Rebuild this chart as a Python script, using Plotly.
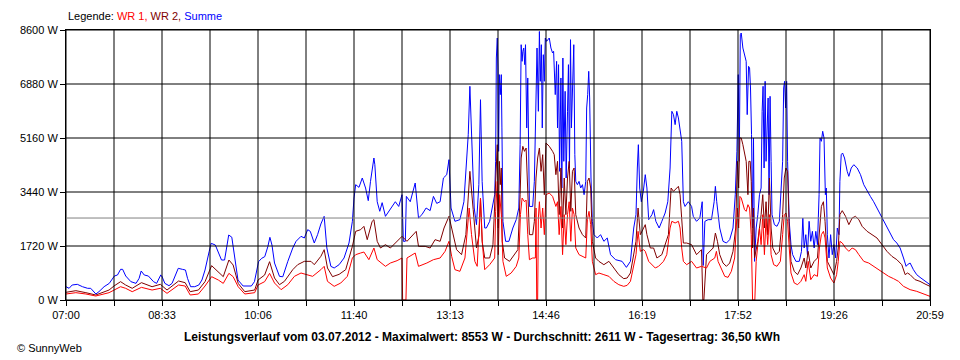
import pandas as pd
import plotly.graph_objects as go

# ---------------- data (minutes after 07:00, watts) ----------------
day_start = "2012-07-03 07:00"
day_minutes = 839  # 07:00 .. 20:59

x_tick_labels = ["07:00", "08:33", "10:06", "11:40", "13:13",
                 "14:46", "16:19", "17:52", "19:26", "20:59"]
y_tick_values = [0, 1720, 3440, 5160, 6880, 8600]
average_w = 2611

t_sum = [
    0, 3, 6, 11, 16, 21, 24, 29, 32, 37,
    42, 47, 50, 53, 55, 58, 63, 68, 71, 73,
    76, 80, 85, 88, 92, 93, 96, 100, 103, 106,
    109, 113, 116, 118, 121, 125, 129, 132, 135, 139,
    141, 145, 148, 151, 154, 156, 158, 161, 164, 167,
    172, 180, 183, 187, 190, 193, 196, 198, 200,
    202.5, 207.3, 210.5, 215.4, 220.2, 223.4, 228.2, 231.4, 234.7, 237.2,
    241.1, 244.3, 247.5, 250.7, 253.3, 257.2, 260.4, 265.2, 270.0, 274.8,
    278.1, 279.7, 281.3, 284.5, 287.7, 290.9, 293.5, 295.7, 299.0, 299.9,
    302.2, 304.7, 307.0, 310.2, 315.0, 319.8, 323.1, 326.3, 327.6, 329.5,
    330.5, 334.3, 339.1, 342.3, 345.6, 349.7, 353.6, 356.8, 360.0, 363.3,
    366.5, 369.7, 371.9, 373.9, 377.7, 382.5, 386.4, 389.0, 390.6, 392.2,
    393.1, 394.8, 396.4, 398.6, 400.9, 402.5, 404.1, 406.6,
    408.2, 411.4, 414.0, 416.3, 417.2, 417.9, 418.8, 419.5, 420.1, 420.8,
    421.7, 422.7, 423.3, 424.3, 426.9, 430.1, 433.9, 437.2, 439.7, 441.0,
    442.0, 442.9, 443.6, 444.5, 445.5, 446.2, 447.4, 448.4, 450.0, 453.2,
    454.8, 456.4, 457.4, 458.7, 459.7, 460.6, 461.6, 462.5, 463.5, 464.5,
    465.4, 466.7, 467.7, 469.3, 470.9, 472.5, 473.5, 475.1, 476.4, 477.3,
    478.3, 479.3, 480.6, 481.5, 482.5, 483.4, 484.7, 485.7, 487.0, 487.9,
    488.9, 489.9, 490.8, 491.8, 493.1, 494.1, 495.0, 496.6, 498.2, 499.8,
    501.5, 503.1, 504.7, 505.6, 506.6, 507.6, 508.5, 509.8, 511.1, 512.7,
    515.9, 519.1, 522.3, 525.6, 528.8, 533.6, 540.0, 544.2, 548.1, 551.3,
    553.5, 554.8, 555.8, 557.1, 558.7, 560.6, 562.5, 564.1, 565.8, 569.0,
    570.6, 572.8, 576.0, 578.6, 581.8, 584.4, 586.6, 588.3, 589.9, 591.5,
    593.1, 594.7, 596.3, 597.9, 599.5, 601.1, 604.3,
    607.5, 609.1, 612.3, 615.5, 617.8, 618.8, 620.4, 623.6, 626.8, 629.4,
    630.6, 631.9, 634.8, 638.0, 641.3, 644.5, 647.7, 649.9, 651.5, 652.8,
    653.8, 654.8, 655.7, 657.3, 658.9, 660.5, 661.5, 662.8, 663.8, 664.7,
    665.7, 666.7, 667.6, 668.6, 670.2, 671.8, 673.4, 675.0, 676.0, 676.9,
    677.9, 678.9, 679.8, 680.8, 681.8, 682.7, 683.7, 684.7, 685.6, 687.9,
    690.4, 692.7, 694.3, 695.9, 696.9, 697.8, 698.8, 699.8, 700.7, 702.3,
    704.0, 705.6, 708.8, 712.0, 714.2, 715.5, 716.8, 718.4, 720.0, 721.6,
    723.2, 724.8, 726.5, 728.1, 729.7, 731.3, 732.2, 733.5, 734.8, 736.1,
    737.4, 738.3, 739.3, 740.9, 742.5, 744.1, 745.7, 747.4, 749.0, 750.6,
    751.5, 752.8, 754.1, 756.0, 758.6, 760.2, 762.5, 765.0, 768.3, 771.5,
    774.7, 777.9, 781.1, 784.3, 787.5, 790.8, 794.0, 797.2, 800.4, 803.6,
    806.8, 810.0, 813.3, 815.8, 817.1, 819.7, 822.9, 826.1, 829.3, 832.6,
    835.8, 839.0,
]
p_sum = [
    424, 372, 478, 499, 424, 372, 372, 191, 265, 424,
    530, 764, 796, 977, 977, 764, 584, 530, 690, 924,
    796, 764, 584, 530, 796, 764, 530, 456, 530, 743,
    1009, 977, 955, 690, 424, 424, 478, 637, 955, 1539,
    1805, 1752, 1487, 1274, 1274, 1699, 2070, 2000, 1274, 637,
    446, 446, 584, 1221, 1327, 1380, 1699, 1997, 1752,
    1178, 754, 740, 1231, 1656, 1869, 2028, 1975, 2240, 2187,
    1815, 2081, 2421, 2665, 1656, 1072, 1019, 1125, 1338, 1815,
    2506, 3249, 3673, 3588, 3886, 3567, 3164, 3779, 4523, 4310,
    3130, 2825, 3100, 2665, 2878, 3130, 2980, 3354, 1869, 1869,
    3300, 3130, 3726, 2612, 2718, 2930, 2846, 3300, 3077, 3130,
    3886, 3990, 4470, 2930, 2506, 2560, 3130, 4417, 5265, 6806,
    6010, 4895, 2930, 2400, 3673, 6380, 3779, 2293,
    2293, 2506, 2980, 3354, 4417, 7708, 8345, 7390, 4735, 7178,
    6541, 7178, 5480, 2506, 1869, 1869, 2293, 2560, 2930, 4947,
    8132, 7602, 7920, 8026, 7496, 8132, 5480, 7072, 2980, 2980,
    3779, 6966, 8026, 6010, 8553, 6966, 8132, 5480, 7814, 6966,
    8345, 8239, 8292, 8345, 8026, 7867, 7920, 6541, 7602, 5480,
    7496, 4098, 7072, 3567, 7708, 4417, 6647, 3886, 6010, 7496,
    4204, 8292, 5480, 6541, 8132, 4629, 3779, 3673, 3779, 3567,
    3673, 3354, 3779, 6116, 6541, 7284, 6435, 3886, 2506, 2081,
    1975, 2081, 1869, 1975, 1444, 1285, 1231, 1040, 1231, 2293,
    2718, 4204, 4947, 3567, 3130, 3460, 3992, 3567, 2560, 2718,
    2878, 2506, 2293, 2506, 2771, 3130, 4204, 6010, 5904, 5586,
    6010, 5798, 5480, 5055, 3130, 2980, 3130,
    2980, 2665, 2506, 2612, 3130, 1100, 2506, 2560, 2560, 3130,
    3620, 3130, 2293, 1869, 1815, 1922, 2293, 3354, 4735, 7178,
    4417, 8451, 8504, 8026, 7814, 7602, 5904, 7443, 7390, 6753,
    5268, 2293, 5161, 1231, 2293, 2718, 3354, 3567, 6010, 6806,
    4204, 6966, 4417, 5480, 6435, 3354, 6488, 4417, 2718, 2400,
    2347, 2506, 3354, 4417, 6753, 6966, 6116, 6966, 4417, 2506,
    1762, 1444, 1231, 1231, 1550, 2612, 1656, 2081, 1444, 2506,
    1869, 2187, 1656, 2187, 1762, 3354, 5161, 5055, 5374, 5161,
    3354, 3567, 2081, 1338, 2081, 1444, 1762, 1338, 2293, 2081,
    3779, 4629, 4682, 4523, 4098, 3939, 4204, 4310, 4204, 3992,
    3673, 3460, 3300, 3130, 2930, 2718, 2506, 2293, 2081, 1922,
    1815, 1656, 1338, 1072, 1125, 1178, 966, 807, 722, 648,
    573, 488,
]

t_wr2 = [
    0, 9.6, 19.3, 28.9, 41.8, 46.6, 53.0, 57.9, 64.3, 73.3,
    83.6, 91.6, 98.1, 109.3, 115.7, 120.6, 128.6, 135.0, 141.4, 147.9,
    152.7, 158.2, 162.3, 167.2, 173.6, 183.2, 186.5, 192.9, 197.7,
    202.5, 207.3, 212.1, 220.2, 225.0, 231.4, 237.9, 241.1, 247.5, 250.7,
    253.9, 258.8, 265.2, 271.6, 278.1, 281.3, 286.1, 289.3, 292.5, 297.3,
    299.0, 302.2, 305.4, 310.2, 315.0, 321.5, 326.3, 331.1, 335.9, 340.1,
    342.3, 348.8, 353.6, 358.4, 363.3, 367.1, 371.9, 374.5, 379.3, 384.1,
    388.3, 392.2, 393.8, 395.4, 398.6, 401.2, 402.5, 404.1, 406.6,
    411.4, 414.6, 417.2, 418.8, 419.8, 420.8, 421.7, 422.7, 423.6, 425.9,
    430.7, 435.5, 438.8, 441.0, 442.0, 443.6, 445.2, 446.8, 448.4, 450.0,
    453.2, 454.8, 456.4, 458.0, 459.7, 461.3, 462.9, 464.5, 466.1, 467.7,
    469.3, 472.5, 474.1, 475.7, 477.3, 478.9, 480.6, 482.2, 483.8, 485.4,
    487.0, 488.6, 490.2, 491.8, 493.4, 495.0, 498.2, 501.5, 504.7, 506.3,
    507.9, 509.5, 511.1, 514.3, 517.5, 522.3, 527.2, 532.0, 536.8, 541.6,
    544.9, 548.1, 551.3, 553.5, 555.5, 557.7, 560.9, 562.5, 564.1, 567.4,
    570.6, 573.8, 578.6, 582.5, 585.0, 587.6, 589.9, 593.1, 594.7, 596.3,
    597.9, 599.5, 602.7, 605.9,
    607.5, 612.3, 617.1, 618.4, 619.4, 622.0, 625.2, 628.4, 630.6, 632.6,
    634.8, 638.0, 641.3, 644.5, 647.7, 650.3, 651.9, 653.2, 654.4, 655.7,
    657.3, 658.9, 660.5, 662.2, 663.1, 664.4, 665.4, 666.7, 667.6, 668.6,
    671.8, 675.0, 676.6, 678.2, 679.8, 681.4, 683.1, 684.7, 686.3, 689.5,
    692.7, 695.9, 697.5, 699.1, 700.7, 702.3, 704.0, 707.2, 710.4, 713.6,
    716.8, 718.4, 720.7, 723.2, 726.5, 729.7, 731.6, 733.5, 735.5, 737.1,
    739.3, 742.5, 745.7, 748.3, 749.9, 751.5, 753.8, 757.0, 760.2, 763.4,
    766.6, 769.9, 773.1, 777.9, 782.7, 787.5, 792.4, 797.2, 802.0, 806.8,
    811.6, 814.9, 817.1, 819.7, 824.5, 829.3, 834.2, 839.0,
]
p_wr2 = [
    245, 297, 233, 159, 318, 446, 584, 478, 372, 552,
    424, 499, 318, 605, 552, 265, 318, 584, 1094, 902,
    743, 1274, 1115, 530, 265, 318, 637, 796, 1221,
    700, 488, 594, 966, 1125, 1231, 1231, 1125, 1391, 1603,
    1019, 743, 817, 966, 1709, 2187, 2240, 2346, 1922, 2506,
    2560, 1869, 1656, 1762, 1656, 1869, 2028, 1869, 2028, 2187,
    1709, 1709, 1656, 1922, 1869, 2293, 2665, 2293, 1603, 1444,
    2081, 4098, 3354, 2878, 1656, 2081, 3249, 1869, 1338,
    1338, 1762, 3886, 4947, 2293, 4417, 3673, 4204, 1869, 1338,
    1231, 1444, 1603, 3354, 4523, 4895, 4735, 4841, 3354, 2081,
    2081, 2506, 3886, 4523, 4841, 4098, 4629, 3354, 5002, 4947,
    4895, 4735, 4629, 3992, 4417, 2718, 4204, 2293, 3886, 2718,
    3886, 4417, 2824, 4098, 4204, 2718, 2293, 2081, 1975, 3779,
    3886, 3567, 1869, 1338, 1231, 1125, 1231, 1019, 807, 680,
    700, 860, 1444, 1869, 2930, 2081, 2293, 2400, 2081, 1656,
    1656, 1338, 1444, 1869, 2081, 3567, 3460, 3567, 3620, 3354,
    2612, 1815, 1815, 1762,
    1762, 1444, 1603, 0, 0, 1444, 1550, 1656, 2134, 1869,
    1444, 1178, 1072, 1178, 1550, 2293, 4417, 3567, 5161, 5161,
    4947, 4629, 4417, 3354, 4417, 4417, 3779, 1656, 2930, 1338,
    1869, 2718, 3354, 2293, 3130, 2081, 3886, 2293, 1656, 1444,
    1550, 2718, 3886, 4204, 4098, 2293, 1231, 913, 807, 1019,
    1338, 1019, 1550, 1019, 1231, 1338, 2081, 2980, 3130, 2506,
    1231, 1019, 807, 1231, 1656, 2718, 2846, 2665, 2400, 2612,
    2665, 2560, 2347, 2187, 2081, 1975, 1762, 1550, 1391, 1285,
    1125, 807, 860, 807, 648, 594, 509, 435,
]

t_wr1 = [
    0, 9.6, 19.3, 28.9, 41.8, 46.6, 53.0, 57.9, 64.3, 73.3,
    83.6, 91.6, 98.1, 109.3, 115.7, 120.6, 128.6, 135.0, 141.4, 147.9,
    152.7, 158.2, 162.3, 167.2, 173.6, 183.2, 186.5, 192.9, 197.7,
    202.5, 208.9, 215.4, 221.8, 228.2, 234.7, 239.5, 247.5, 250.7, 253.9,
    260.4, 266.8, 273.2, 278.1, 281.3, 286.1, 289.3, 294.1, 299.0, 302.2,
    310.2, 315.0, 321.5, 326.3, 326.9, 330.1, 331.1, 339.1, 342.3, 350.4,
    356.8, 363.3, 368.1, 371.9, 374.5, 377.7, 382.5, 387.4, 391.5, 393.8,
    397.0, 399.3, 402.5, 404.4, 406.6,
    411.4, 416.3, 417.2, 418.8, 419.8, 421.1, 422.7, 424.3, 427.5, 432.3,
    437.2, 439.7, 441.3, 442.9, 445.2, 446.8, 448.4, 450.0, 453.2, 455.8,
    456.4, 457.1, 458.0, 458.7, 459.7, 461.3, 462.9, 464.5, 466.1, 469.3,
    472.5, 475.7, 477.3, 478.9, 480.6, 482.2, 483.8, 485.4, 487.0, 488.6,
    490.2, 491.8, 493.4, 495.0, 498.2, 501.5, 504.7, 506.3, 507.9, 509.5,
    511.1, 514.3, 517.5, 522.3, 527.2, 532.0, 536.8, 541.6, 544.9, 548.1,
    551.3, 553.5, 555.5, 557.7, 560.9, 562.5, 565.8, 569.0, 572.2, 575.4,
    580.2, 583.4, 586.6, 588.3, 591.5, 594.7, 596.3, 597.9, 599.5, 602.7,
    605.9,
    607.5, 612.3, 617.1, 622.0, 625.2, 630.0, 631.6, 633.2, 636.4, 639.7,
    642.9, 646.1, 649.3, 651.9, 653.2, 654.4, 655.7, 657.3, 658.9, 660.5,
    662.2, 663.8, 665.4, 666.7, 668.9, 670.2, 673.4, 675.0, 676.6, 678.2,
    679.8, 681.4, 683.1, 684.7, 687.2, 690.4, 693.7, 695.9, 697.5, 699.1,
    700.7, 702.3, 704.0, 707.2, 710.4, 713.6, 716.8, 718.4, 720.7, 723.2,
    726.5, 729.7, 731.6, 733.5, 735.5, 737.1, 739.3, 742.5, 745.7, 748.3,
    749.9, 751.5, 753.8, 757.0, 760.2, 763.4, 766.6, 769.9, 774.7, 779.5,
    784.3, 789.1, 794.0, 798.8, 803.6, 808.4, 813.3, 819.7, 826.1, 832.6,
    839.0,
]
p_wr1 = [
    191, 233, 191, 127, 233, 318, 424, 372, 265, 403,
    318, 372, 212, 478, 446, 159, 191, 446, 743, 637,
    530, 849, 743, 424, 191, 233, 478, 584, 849,
    541, 329, 488, 754, 860, 807, 754, 966, 1072, 594,
    435, 541, 754, 1338, 1444, 1497, 1529, 1285, 1656, 1285,
    1072, 1178, 1253, 1338, 0, 0, 1338, 1497, 1072, 1178,
    1285, 1338, 1550, 1869, 1391, 966, 913, 1338, 2930, 2081,
    1231, 1072, 3249, 1762, 966,
    1125, 1338, 2824, 3779, 1444, 3354, 2718, 1231, 754, 860,
    1072, 1338, 2718, 3249, 3130, 3183, 2081, 1285, 1338, 1338,
    2930, 0, 0, 2612, 3130, 2293, 2930, 2081, 3354, 3407,
    3300, 2980, 3130, 2081, 2980, 1444, 2718, 1762, 2718, 3130,
    1869, 2930, 2718, 1656, 1444, 1391, 1338, 2560, 2824, 2400,
    1231, 807, 860, 807, 754, 594, 488, 435, 466, 594,
    1125, 1444, 2187, 1550, 1603, 1550, 1231, 1125, 1019, 1072,
    1231, 1444, 2293, 2506, 2453, 2506, 2293, 1656, 1231, 1125,
    1178,
    1231, 1019, 1072, 1019, 1231, 1338, 1550, 1231, 966, 754,
    722, 913, 1338, 2930, 2293, 3300, 3249, 3036, 2878, 2824,
    3036, 2930, 2081, 0, 0, 1231, 2293, 1762, 2718, 1444,
    2612, 1762, 2718, 1444, 1125, 1072, 1231, 2081, 2718, 2771,
    2506, 1656, 860, 541, 488, 594, 807, 594, 1231, 648,
    807, 754, 1656, 2081, 2187, 1975, 1019, 700, 541, 807,
    1231, 1869, 1815, 1656, 1550, 1656, 1603, 1444, 1231, 1178,
    1072, 966, 860, 754, 680, 594, 435, 329, 276, 191,
    117,
]

for a, b in ((t_sum, p_sum), (t_wr2, p_wr2), (t_wr1, p_wr1)):
    assert len(a) == len(b), (len(a), len(b))

# ---------------- figure ----------------
start = pd.Timestamp(day_start)


def to_time(mins):
    return [start + pd.Timedelta(minutes=m) for m in mins]


FONT = "Liberation Sans, Arial, sans-serif"
C_WR1, C_WR2, C_SUM = "#FF0000", "#800000", "#0000FF"

fig = go.Figure()
fig.add_trace(go.Scatter(x=to_time(t_sum), y=p_sum, mode="lines", name="Summe",
                         line=dict(color=C_SUM, width=1), hoverinfo="skip"))
fig.add_trace(go.Scatter(x=to_time(t_wr2), y=p_wr2, mode="lines", name="WR 2",
                         line=dict(color=C_WR2, width=1), hoverinfo="skip"))
fig.add_trace(go.Scatter(x=to_time(t_wr1), y=p_wr1, mode="lines", name="WR 1",
                         line=dict(color=C_WR1, width=1), hoverinfo="skip"))

n_div = 2 * (len(x_tick_labels) - 1)
x_grid = [start + pd.Timedelta(minutes=k * day_minutes / n_div) for k in range(n_div + 1)]
x_text = []
for k in range(n_div + 1):
    x_text.append(x_tick_labels[k // 2] if k % 2 == 0 else "")

shapes = []
for xv in x_grid:
    shapes.append(dict(type="line", xref="x", yref="paper", x0=xv, x1=xv, y0=0, y1=1,
                       line=dict(color="black", width=1), layer="above"))
for yv in y_tick_values:
    shapes.append(dict(type="line", xref="paper", yref="y", x0=0, x1=1, y0=yv, y1=yv,
                       line=dict(color="black", width=1), layer="above"))
shapes.append(dict(type="line", xref="paper", yref="y", x0=0, x1=1, y0=average_w, y1=average_w,
                   line=dict(color="#808080", width=1), layer="above"))

axis_common = dict(showgrid=False, zeroline=False, showline=True, linecolor="black",
                   linewidth=1, mirror=True, ticks="outside", ticklen=5, tickcolor="black",
                   tickwidth=1, tickfont=dict(family=FONT, size=11, color="black"))

# the page body adds an 8 px margin, so the figure is 8 px smaller than the window
fig.update_layout(
    width=952, height=352,
    margin=dict(l=52, r=30, t=22, b=60),
    paper_bgcolor="white", plot_bgcolor="white",
    showlegend=False,
    xaxis=dict(type="date", range=[x_grid[0], x_grid[-1]], tickmode="array",
               tickvals=x_grid, ticktext=x_text, **axis_common),
    yaxis=dict(range=[0, 8600], tickmode="array", tickvals=y_tick_values,
               ticktext=[f"{v} W" for v in y_tick_values], **axis_common),
    shapes=shapes,
    annotations=[
        dict(xref="paper", yref="paper", x=0, y=1.05, xanchor="left", yanchor="middle",
             showarrow=False, font=dict(family=FONT, size=11, color="black"),
             text=("Legende: <span style='color:#FF0000'>WR 1, </span>"
                   "<span style='color:#800000'>WR 2, </span>"
                   "<span style='color:#0000FF'>Summe</span>")),
        dict(xref="paper", yref="paper", x=0.482, y=-0.136, xanchor="center", yanchor="middle",
             showarrow=False, font=dict(family=FONT, size=12, color="black"),
             text="<b>Leistungsverlauf vom 03.07.2012 - Maximalwert: 8553 W - "
                  "Durchschnitt: 2611 W - Tagesertrag: 36,50 kWh</b>"),
        dict(xref="paper", yref="paper", x=-0.059, y=-0.178, xanchor="left", yanchor="middle",
             showarrow=False, font=dict(family=FONT, size=11, color="black"),
             text="© SunnyWeb"),
    ],
)

fig.write_html("out.html")
